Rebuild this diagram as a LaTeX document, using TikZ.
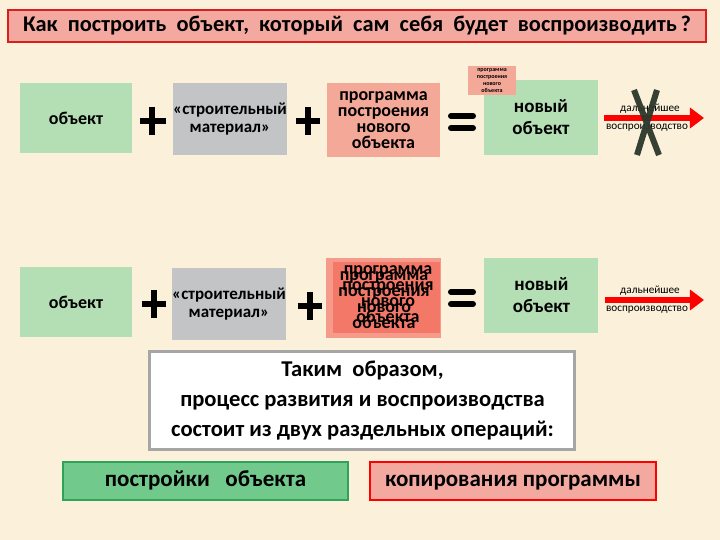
\documentclass[tikz,border=0pt]{standalone}
\usepackage{fontspec}
\setmainfont{Carlito}
\usetikzlibrary{arrows.meta,positioning}

\definecolor{paper}{HTML}{FBF1DA}
\definecolor{objgreen}{HTML}{B4DEB4}
\definecolor{matgray}{HTML}{C3C4C5}
\definecolor{progpink}{HTML}{F4A898}
\definecolor{progred}{HTML}{F37868}
\definecolor{progred2}{HTML}{F69A8C}
\definecolor{titlered}{HTML}{D91E1E}
\definecolor{titlepink}{HTML}{F4A9A0}
\definecolor{opgreen}{HTML}{72C98C}
\definecolor{opgreenline}{HTML}{2FA35A}
\definecolor{crossdark}{HTML}{2C382C}

\tikzset{
  block/.style={inner sep=0pt,align=center,font=\bfseries\fontsize{9}{9}\selectfont},
  objbox/.style={block,fill=objgreen,minimum width=56pt,minimum height=35pt},
  matbox/.style={block,fill=matgray,minimum width=57pt,minimum height=36pt,
    font=\bfseries\fontsize{8.5}{9}\selectfont},
  progbox/.style={block,fill=progpink,minimum width=56.5pt,minimum height=37pt,
    font=\bfseries\fontsize{9}{8}\selectfont},
  newbox/.style={block,fill=objgreen,minimum width=57pt,minimum height=37.5pt,
    font=\bfseries\fontsize{9.5}{11}\selectfont},
  opbox/.style={inner sep=0pt,minimum width=142.5pt,minimum height=19pt,line width=1pt,
    text height=8.5pt,text depth=2.5pt,font=\bfseries\fontsize{11.5}{12}\selectfont},
  sign/.style={line width=3pt,black},
  nextarrow/.style={line width=3pt,red,-{Triangle[length=7pt,width=10pt]}},
  arrowtext/.style={inner sep=0pt,font=\fontsize{5.6}{6}\selectfont}
}

\begin{document}
\begin{tikzpicture}[x=0.5pt,y=-0.5pt]
  \fill[paper] (0,0) rectangle (720,540);
  \useasboundingbox (0,0) rectangle (720,540);

  % заголовок
  \node[draw=titlered,fill=titlepink,line width=1pt,minimum width=349pt,minimum height=16pt,
    inner sep=0pt,font=\bfseries\fontsize{11.2}{12}\selectfont] (title) at (357,26)
    {Как\ \ построить\ \ объект,\ \ который\ \ сам\ \ себя\ \ будет\ \ воспроизводить\,?};

  % первая строка
  \node[objbox] (obj1) at (76,118) {объект};
  \node[matbox] (mat1) at (230,119) {«строительный\\материал»};
  \node[progbox] (prog1) at (383.5,120) {программа\\построения\\нового\\объекта};
  \node[newbox] (new1) at (541,117.5) {новый\\объект};
  \node[block,fill=progpink,minimum width=24pt,minimum height=14.5pt,
    font=\bfseries\fontsize{3}{3.4}\selectfont] (small1) at (492,80.5)
    {программа\\построения\\нового\\объекта};

  \draw[sign] (152,107) -- (152,135) (140,121) -- (166,121);
  \draw[sign] (308,107) -- (308,135) (296,121) -- (320,121);
  \draw[sign,line cap=round] (451,116) -- (473,116) (451,128) -- (473,128);

  \coordinate (end1) at (704,118);
  \draw[nextarrow] ([xshift=3pt]new1.east |- end1) -- (end1);
  \node[arrowtext] (more1) at (650,109) {дальнейшее};
  \node[arrowtext] (repr1) at (647,128) {воспроизводство};
  \draw[line width=3pt,crossdark,opacity=0.95]
    (634,90) -- (659,155) (657,90) -- (637,155);

  % вторая строка
  \node[objbox] (obj2) at (76,302) {объект};
  \node[matbox] (mat2) at (229,304) {«строительный\\материал»};
  \node[progbox,fill=progred2,minimum width=57.5pt,minimum height=40pt] (prog2) at (384,298) {};
  \node[progbox,fill=progred,minimum width=53.5pt,minimum height=35.5pt] (prog2b) at (386.5,297.5) {};
  \node[block,font=\bfseries\fontsize{9}{8}\selectfont] (text2a) at (388,294) {программа\\построения\\нового\\объекта};
  \node[block,font=\bfseries\fontsize{9}{8}\selectfont] (text2b) at (384,300) {программа\\построения\\нового\\объекта};
  \node[newbox] (new2) at (541.5,295.5) {новый\\объект};

  \draw[sign] (154,290) -- (154,318) (142,304) -- (166,304);
  \draw[sign] (310,292) -- (310,320) (298,306) -- (322,306);
  \draw[sign,line cap=round] (451,292) -- (473,292) (451,304) -- (473,304);

  \coordinate (end2) at (704,300);
  \draw[nextarrow] ([xshift=3pt]new2.east |- end2) -- (end2);
  \node[arrowtext] (more2) at (650,291) {дальнейшее};
  \node[arrowtext] (repr2) at (647,310) {воспроизводство};

  % вывод
  \node[draw=gray!70,fill=white,line width=1.5pt,minimum width=212.5pt,minimum height=49pt,
    inner sep=0pt,align=center,font=\bfseries\fontsize{11.3}{15}\selectfont] (summary) at (362.5,401)
    {Таким\ \ образом,\\процесс развития и воспроизводства\\состоит из двух раздельных операций:};

  \node[opbox,draw=opgreenline,fill=opgreen] (build) at (205.5,481) {постройки\ \ \ объекта};
  \node[opbox,draw=red,fill=titlepink,minimum width=143pt] (copy) at (513,481) {копирования программы};
\end{tikzpicture}
\end{document}
